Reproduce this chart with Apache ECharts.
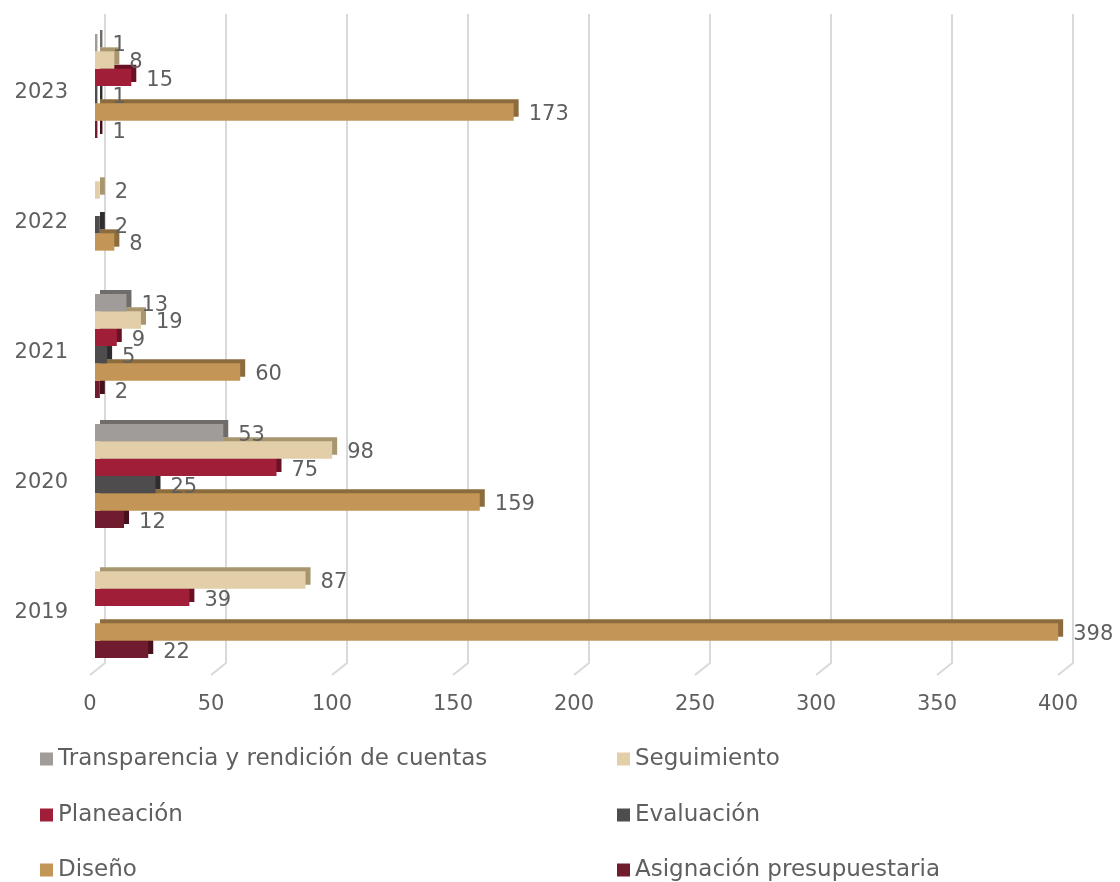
<!DOCTYPE html>
<html><head><meta charset="utf-8">
<script src="https://cdn.jsdelivr.net/npm/echarts@6/dist/echarts.min.js"></script>
<style>html,body{margin:0;padding:0;background:#fff}#c{width:1120px;height:882px}</style>
</head><body><div id="c"></div>
<script>
const years = ['2019', '2020', '2021', '2022', '2023'];
const transparencia = [null, 53, 13, null, 1];
const seguimiento = [87, 98, 19, 2, 8];
const planeacion = [39, 75, 9, null, 15];
const evaluacion = [null, 25, 5, 2, 1];
const diseno = [398, 159, 60, 8, 173];
const asignacion = [22, 12, 2, null, 1];
const xTicks = [0, 50, 100, 150, 200, 250, 300, 350, 400];
const names = ['Transparencia y rendición de cuentas', 'Seguimiento', 'Planeación', 'Evaluación', 'Diseño', 'Asignación presupuestaria'];

const FONT = 'DejaVu Sans';
const TXT = '#5f5f5f';
const styles = [
  { color: '#a09c9a', side: '#6f6c6a' },
  { color: '#e2cea8', side: '#a8966f' },
  { color: '#a01e38', side: '#6a1224' },
  { color: '#4f4c4e', side: '#2f2d2f' },
  { color: '#c39556', side: '#8c6c3d' },
  { color: '#701c2e', side: '#46101c' }
];
const values = [transparencia, seguimiento, planeacion, evaluacion, diseno, asignacion];

const barSeries = names.map((n, i) => ({
  name: n,
  type: 'bar',
  z: 10 - i,
  data: values[i],
  barGap: '0%',
  barCategoryGap: '20%',
  itemStyle: {
    color: styles[i].color,
    shadowColor: styles[i].side,
    shadowOffsetX: 5,
    shadowOffsetY: -4,
    shadowBlur: 0
  },
  label: {
    show: true, position: 'right', distance: 15, offset: [0, 3],
    color: TXT, fontSize: 21, fontFamily: FONT
  }
}));

const gridSeries = {
  type: 'custom', z: 0, silent: true,
  data: xTicks.map(v => [v, 0]),
  encode: { x: 0, y: 1 },
  renderItem: function (params, api) {
    const x = api.coord([api.value(0), 0])[0];
    const cs = params.coordSys;
    const bottom = cs.y + cs.height;
    return {
      type: 'polyline',
      shape: { points: [[x - 5, bottom + 4], [x + 10, bottom - 8], [x + 10, 14]] },
      style: { stroke: '#d9d9d9', lineWidth: 2, fill: null }
    };
  }
};

// legend layout: two columns, three rows
const legendPos = [
  { left: 40, top: 747 }, { left: 617, top: 747 },
  { left: 40, top: 803 }, { left: 617, top: 803 },
  { left: 40, top: 858 }, { left: 617, top: 858 }
];
const legends = names.map((n, i) => ({
  left: legendPos[i].left, top: legendPos[i].top, padding: 0,
  itemWidth: 13, itemHeight: 13, icon: 'rect', itemGap: 0,
  data: [n],
  textStyle: { color: TXT, fontSize: 23, fontFamily: FONT, lineHeight: 24 }
}));

const chart = echarts.init(document.getElementById('c'), null, { renderer: 'canvas' });
chart.setOption({
  animation: false,
  backgroundColor: '#fff',
  textStyle: { fontFamily: FONT },
  grid: { left: 95, right: 57, top: 21, bottom: 211, containLabel: false },
  xAxis: {
    type: 'value', min: 0, max: 400, interval: 50,
    splitLine: { show: false }, axisLine: { show: false }, axisTick: { show: false },
    axisLabel: { margin: 23, color: TXT, fontSize: 21, fontFamily: FONT, padding: [0, 10, 0, 0] }
  },
  yAxis: {
    type: 'category', data: years,
    axisLine: { show: false }, axisTick: { show: false }, splitLine: { show: false },
    axisLabel: { margin: 27, color: TXT, fontSize: 21, fontFamily: FONT, verticalAlign: 'top', lineHeight: 14 }
  },
  legend: legends,
  series: [gridSeries].concat(barSeries)
});
</script>
</body></html>
